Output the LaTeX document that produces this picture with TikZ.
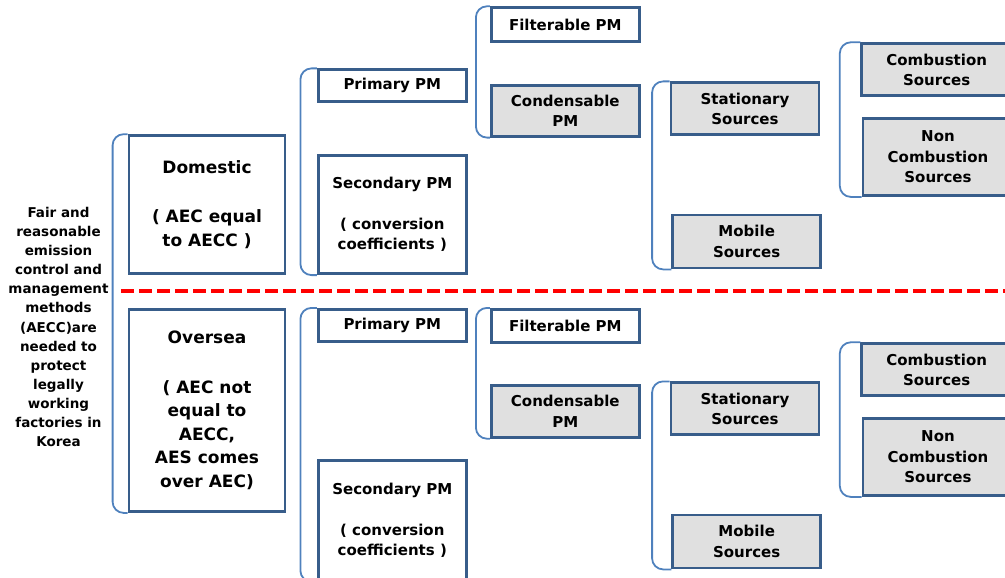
\documentclass[tikz,border=0pt]{standalone}
\usepackage{fontspec}
\setmainfont{DejaVu Sans}
\usetikzlibrary{positioning}
\definecolor{boxblue}{HTML}{385D8A}
\definecolor{bracketblue}{HTML}{4F81BD}
\definecolor{boxgray}{HTML}{E0E0E0}
\tikzset{
  pmbox/.style={draw=boxblue,line width=2.8pt,fill=white,align=center,inner sep=0pt,font=\bfseries\fontsize{15}{20.5}\selectfont},
  srcbox/.style={pmbox,fill=boxgray},
  groupbox/.style={pmbox,font=\bfseries\fontsize{17}{23.5}\selectfont},
  bracket/.style={draw=bracketblue,line width=1.8pt,rounded corners=11pt}
}
\begin{document}
\begin{tikzpicture}[x=1pt,y=-1pt]
\clip (0,0) rectangle (1005,578);

% statement on the left
\node[align=center,font=\bfseries\fontsize{13.5}{19.1}\selectfont] (aim) at (58.5,327)
  {Fair and\\reasonable\\emission\\control and\\management\\methods\\(AECC)are\\needed to\\protect\\legally\\working\\factories in\\Korea};

% the two groups
\node[groupbox,minimum width=156pt,minimum height=138pt] (Dom) at (207,204.6) {Domestic\\[26pt]( AEC equal\\to AECC )};
\node[groupbox,minimum width=156pt,minimum height=202pt] (Over) at (207,410.5) {Oversea\\[26pt]( AEC not\\equal to\\AECC,\\AES comes\\over AEC)};

% PM boxes, upper half
\node[pmbox,minimum width=148pt,minimum height=32pt] (Prim1) at (392.3,85.8) {Primary PM};
\node[pmbox,minimum width=148pt,minimum height=118pt] (Sec1) at (392.3,214.7) {Secondary PM\\[20pt]( conversion\\coefficients )};
\node[pmbox,minimum width=148pt,minimum height=34pt] (Filt1) at (565.3,24.7) {Filterable PM};
\node[srcbox,minimum width=148pt,minimum height=51pt] (Cond1) at (565.3,110.7) {Condensable\\PM};

% PM boxes, lower half
\node[pmbox,minimum width=148pt,minimum height=32pt] (Prim2) at (392.3,325.3) {Primary PM};
\node[pmbox,minimum width=148pt,minimum height=120pt] (Sec2) at (392.3,520.3) {Secondary PM\\[20pt]( conversion\\coefficients )};
\node[pmbox,minimum width=148pt,minimum height=33pt] (Filt2) at (565.3,325.8) {Filterable PM};
\node[srcbox,minimum width=148pt,minimum height=52pt] (Cond2) at (565.3,411.3) {Condensable\\PM};

% sources, same in both halves
\foreach \s/\dy in {1/0,2/300} {
  \node[srcbox,minimum width=148pt,minimum height=52pt] (Stat\s) at (745,108.8+\dy) {Stationary\\Sources};
  \node[srcbox,minimum width=148pt,minimum height=53pt] (Mob\s) at (746.7,241.5+\dy) {Mobile\\Sources};
  \node[srcbox,minimum width=150pt,minimum height=52pt] (Comb\s) at (936.7,69.7+\dy) {Combustion\\Sources};
  \node[srcbox,minimum width=150pt,minimum height=77pt] (Non\s) at (938,157+\dy) {Non\\Combustion\\Sources};
  \draw[bracket] (Stat\s.north west) -- ++(-17.5,0) |- (Mob\s.south west);
  \draw[bracket] (Comb\s.north west) -- ++(-20.5,0) |- (Non\s.south west);
  \draw[bracket] (Prim\s.north west) -- ++(-16.5,0) |- (Sec\s.south west);
  \draw[bracket] (Filt\s.north west) -- ++(-14,0) |- (Cond\s.south west);
}
\draw[bracket] (Dom.north west) -- ++(-15,0) |- (Over.south west);

% divider
\draw[red,line width=4pt,dash pattern=on 13pt off 5pt] (121,291) -- (1005,291);
\end{tikzpicture}
\end{document}
